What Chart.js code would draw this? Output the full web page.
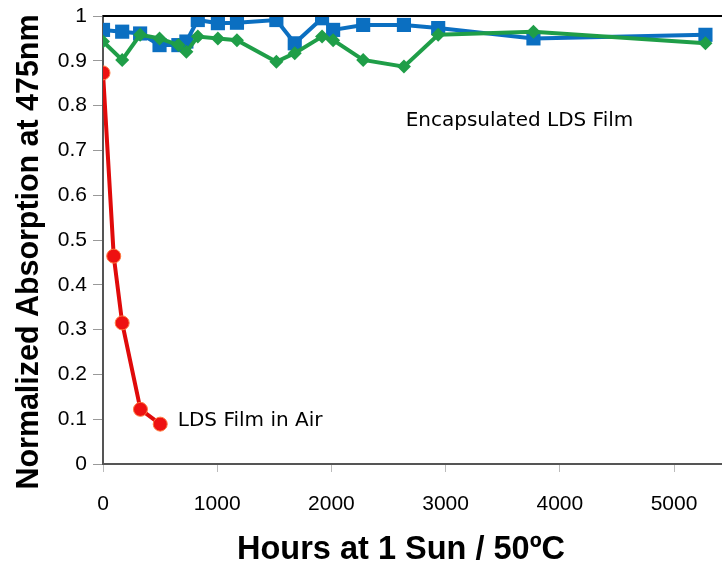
<!DOCTYPE html>
<html>
<head>
<meta charset="utf-8">
<script src="https://cdn.jsdelivr.net/npm/chart.js@4"></script>
<style>
  html, body { margin: 0; padding: 0; background: #fff; overflow: hidden; }
</style>
</head>
<body>
<canvas id="absChart" width="722" height="572"></canvas>
<script>
// Hours and normalized absorption
const encHours = [0, 168, 325, 495, 660, 730, 830, 1006, 1173, 1518, 1679, 1918, 2015, 2278, 2635, 2935, 3769, 5275];
const encBlue  = [0.969, 0.965, 0.961, 0.935, 0.935, 0.943, 0.991, 0.984, 0.985, 0.991, 0.939, 0.995, 0.969, 0.980, 0.980, 0.973, 0.950, 0.958];
const encGreen = [0.943, 0.902, 0.958, 0.950, 0.935, 0.920, 0.954, 0.950, 0.946, 0.898, 0.917, 0.954, 0.946, 0.902, 0.887, 0.958, 0.965, 0.939];
const airHours = [0, 94, 168, 328, 501];
const airRed   = [0.873, 0.464, 0.315, 0.122, 0.089];
const xTicks = [0, 1000, 2000, 3000, 4000, 5000];

const pts = (xs, ys) => xs.map((x, i) => ({ x: x, y: ys[i] }));

// Text labels placed in data coordinates
const notes = [
    { text: 'Encapsulated LDS Film', x: 2650, y: 0.766 },
    { text: 'LDS Film in Air', x: 655, y: 0.096 }
];

const xTitle = 'Hours at 1 Sun / 50ºC';
const yTitle = 'Normalized Absorption at 475nm';

// draw text squeezed/stretched to a given width
function fitText(ctx, text, cx, cy, width, rot) {
    ctx.save();
    ctx.translate(cx, cy);
    ctx.rotate(rot);
    const w = ctx.measureText(text).width;
    ctx.scale(width / w, 1);
    ctx.textAlign = 'center';
    ctx.textBaseline = 'middle';
    ctx.fillText(text, 0, 0);
    ctx.restore();
}

const notesPlugin = {
    id: 'notes',
    afterDatasetsDraw(chart) {
        const ctx = chart.ctx;
        const xs = chart.scales.x, ys = chart.scales.y;
        const a = chart.chartArea;
        ctx.save();
        ctx.fillStyle = '#000';
        ctx.font = '20px "DejaVu Sans"';
        ctx.textBaseline = 'middle';
        notes.forEach(n => ctx.fillText(n.text, xs.getPixelForValue(n.x), ys.getPixelForValue(n.y)));

        // top frame line
        ctx.strokeStyle = '#000';
        ctx.lineWidth = 2;
        ctx.beginPath();
        ctx.moveTo(a.left, a.top);
        ctx.lineTo(chart.width, a.top);
        ctx.stroke();

        // axis titles
        ctx.font = 'bold 34px "Liberation Sans", Arial, sans-serif';
        fitText(ctx, xTitle, 401, 550, 328, 0);
        ctx.font = 'bold 31px "Liberation Sans", Arial, sans-serif';
        fitText(ctx, yTitle, 29, 252, 475, -Math.PI / 2);
        ctx.restore();
    }
};

const tickFont = { family: '"Liberation Sans", Arial, sans-serif', size: 21 };

new Chart(document.getElementById('absChart'), {
    type: 'scatter',
    data: {
        datasets: [{
            label: 'LDS Film in Air',
            data: pts(airHours, airRed),
            showLine: true,
            borderColor: '#e00a0a',
            borderWidth: 4,
            pointStyle: 'circle',
            pointRadius: 7,
            pointBackgroundColor: '#ee1111',
            pointBorderColor: '#ff7a40',
            pointBorderWidth: 1
        }, {
            label: 'Encapsulated (green)',
            data: pts(encHours, encGreen),
            showLine: true,
            borderColor: '#1f9e48',
            borderWidth: 4,
            pointStyle: 'rectRot',
            pointRadius: 7,
            pointBackgroundColor: '#1f9e48',
            pointBorderColor: '#1f9e48',
            pointBorderWidth: 0
        }, {
            label: 'Encapsulated (blue)',
            data: pts(encHours, encBlue),
            showLine: true,
            borderColor: '#0b6fc1',
            borderWidth: 4,
            pointStyle: 'rect',
            pointRadius: 10,
            pointBackgroundColor: '#0b6fc1',
            pointBorderColor: '#0b6fc1',
            pointBorderWidth: 0
        }]
    },
    options: {
        responsive: false,
        animation: false,
        layout: { autoPadding: false, padding: { top: 16, right: 0, left: 0, bottom: 0 } },
        plugins: {
            legend: { display: false },
            tooltip: { enabled: false }
        },
        scales: {
            x: {
                type: 'linear',
                min: 0,
                max: 5420,
                afterBuildTicks: axis => { axis.ticks = xTicks.map(v => ({ value: v })); },
                afterFit: s => { s.height = 108; s.paddingRight = 0; s.paddingLeft = 0; },
                ticks: { autoSkip: false, color: '#000', padding: 20, maxRotation: 0,
                    font: tickFont, callback: v => String(v) },
                grid: { drawOnChartArea: false, color: '#bbb', tickLength: 8 },
                border: { color: '#555', width: 2 }
            },
            y: {
                min: 0,
                max: 1,
                afterFit: s => { s.width = 103; s.paddingTop = 0; s.paddingBottom = 0; },
                ticks: { stepSize: 0.1, autoSkip: false, color: '#000', padding: 6, font: tickFont,
                    callback: v => String(+v.toFixed(1)) },
                grid: { drawOnChartArea: false, color: '#999', tickLength: 10 },
                border: { color: '#555', width: 2 }
            }
        }
    },
    plugins: [notesPlugin]
});
</script>
</body>
</html>
